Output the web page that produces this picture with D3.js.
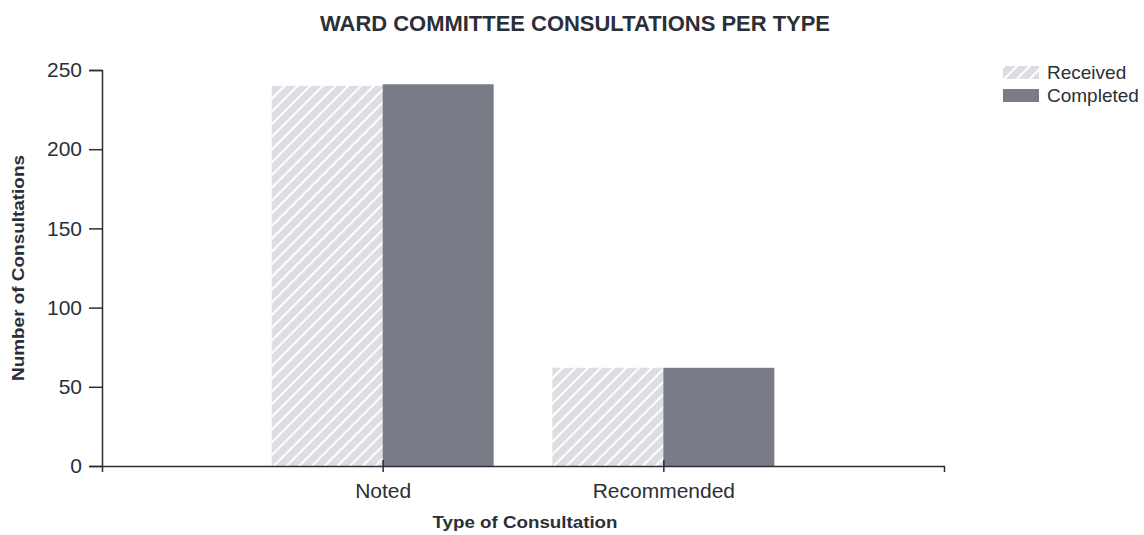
<!DOCTYPE html>
<html>
<head>
    <title>Ward Committee Consultations</title>
    <script src="https://d3js.org/d3.v7.min.js"></script>
    <style>
        body { margin: 0; background: #fff; }
        text { font-family: "Liberation Sans", Arial, sans-serif; fill: #2b2f38; }
    </style>
</head>
<body>
    <div id="chart"></div>
    <script>
const categories = ['Noted', 'Recommended'];
const seriesNames = ['Received', 'Completed'];
const received = [240, 62];
const completed = [241, 62];
const yTicks = [0, 50, 100, 150, 200, 250];

const width = 1144;
const height = 535;
const margin = { top: 70, right: 200, bottom: 69, left: 102 };

const svg = d3.select('#chart')
    .append('svg')
    .attr('width', width)
    .attr('height', height);

const defs = svg.append('defs');
const hatch = defs.append('pattern')
    .attr('id', 'hatch')
    .attr('patternUnits', 'userSpaceOnUse')
    .attr('width', 9)
    .attr('height', 9)
    .attr('patternTransform', 'rotate(45)');
hatch.append('rect')
    .attr('width', 9)
    .attr('height', 9)
    .attr('fill', '#dddee3');
hatch.append('rect')
    .attr('x', 0)
    .attr('width', 2)
    .attr('height', 9)
    .attr('fill', '#ffffff');

const x = d3.scalePoint()
    .domain(categories)
    .range([margin.left, 944])
    .padding(1);

const barWidth = 111;

const y = d3.scaleLinear()
    .domain([0, 250])
    .range([466, 70]);

const rows = categories.map((c, i) => ({ cat: c, received: received[i], completed: completed[i] }));

const bars = svg.append('g').attr('class', 'bars');

bars.selectAll('rect.received')
    .data(rows)
    .enter()
    .append('rect')
    .attr('class', 'received')
    .attr('x', d => x(d.cat) - barWidth)
    .attr('y', d => y(d.received))
    .attr('width', barWidth)
    .attr('height', d => y(0) - y(d.received))
    .attr('fill', 'url(#hatch)');

bars.selectAll('rect.completed')
    .data(rows)
    .enter()
    .append('rect')
    .attr('class', 'completed')
    .attr('x', d => x(d.cat))
    .attr('y', d => y(d.completed))
    .attr('width', barWidth)
    .attr('height', d => y(0) - y(d.completed))
    .attr('fill', '#797c86');

// axes
const yAxis = svg.append('g')
    .attr('transform', `translate(${margin.left},0)`)
    .call(d3.axisLeft(y).tickValues(yTicks).tickSize(13).tickPadding(7));

const xAxis = svg.append('g')
    .attr('transform', `translate(0,${y(0)})`)
    .call(d3.axisBottom(x).tickSize(6).tickSizeOuter(6).tickPadding(8));

[yAxis, xAxis].forEach(a => {
    a.select('.domain').attr('stroke', '#2b2f38').attr('stroke-width', 1.5);
    a.selectAll('.tick line').attr('stroke', '#2b2f38').attr('stroke-width', 1.5);
    a.selectAll('.tick text')
        .style('font-family', '"Liberation Sans", Arial, sans-serif')
        .style('font-size', '21px')
        .attr('fill', '#2b2f38');
});
xAxis.selectAll('.tick line').attr('y2', -6).attr('y1', 6);
xAxis.selectAll('.tick text').attr('dy', '0.85em');

// title
svg.append('text')
    .attr('x', 575)
    .attr('y', 31)
    .attr('text-anchor', 'middle')
    .attr('textLength', 510)
    .attr('lengthAdjust', 'spacingAndGlyphs')
    .style('font-size', '22px')
    .style('font-weight', 'bold')
    .text('WARD COMMITTEE CONSULTATIONS PER TYPE');

// axis titles
svg.append('text')
    .attr('x', 525)
    .attr('y', 528)
    .attr('text-anchor', 'middle')
    .attr('textLength', 185)
    .attr('lengthAdjust', 'spacingAndGlyphs')
    .style('font-size', '17px')
    .style('font-weight', 'bold')
    .text('Type of Consultation');

svg.append('text')
    .attr('transform', 'translate(24,268) rotate(-90)')
    .attr('text-anchor', 'middle')
    .attr('textLength', 226)
    .attr('lengthAdjust', 'spacingAndGlyphs')
    .style('font-size', '16px')
    .style('font-weight', 'bold')
    .text('Number of Consultations');

// legend
const legend = svg.append('g')
    .attr('transform', 'translate(1003,66)');

const legendItems = legend.selectAll('g')
    .data(seriesNames)
    .enter()
    .append('g')
    .attr('transform', (d, i) => `translate(0,${i * 23})`);

legendItems.append('rect')
    .attr('width', 36)
    .attr('height', 13)
    .attr('fill', (d, i) => i === 0 ? 'url(#hatch)' : '#797c86');

legendItems.append('text')
    .attr('x', 44)
    .attr('y', 13)
    .style('font-size', '19px')
    .text(d => d);
    </script>
</body>
</html>
